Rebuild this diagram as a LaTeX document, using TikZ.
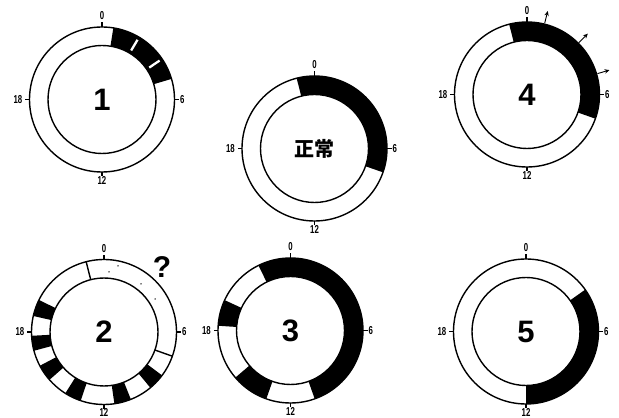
\documentclass[tikz,border=0pt]{standalone}
\usepackage{fontspec}
\setmainfont{Liberation Sans}
\newfontfamily\cjk{Noto Sans CJK SC}
\usetikzlibrary{calc,arrows.meta}

% ring radii (pt)
\def\Ro{72.5}
\def\Ri{54}

\tikzset{
  ring/.style={line width=1.4pt},
  hourlabel/.style={inner sep=0pt, font=\bfseries\fontsize{11.5}{11.5}\selectfont},
  bignum/.style={inner sep=0pt, font=\bfseries\fontsize{31}{31}\selectfont},
  outarrow/.style={line width=0.9pt, -{Stealth[length=4.8pt,width=4.4pt]}},
  gapline/.style={white, line width=2.3pt},
}

% black sector of the ring, clockwise from hour #2 to hour #3
\newcommand\blackarc[3]{%
  \pgfmathsetmacro\angA{90-15*(#2)}%
  \pgfmathsetmacro\angB{90-15*(#3)}%
  \fill ([shift={(\angA:\Ro pt)}]#1)
    arc[start angle=\angA, end angle=\angB, radius=\Ro pt]
    -- ([shift={(\angB:\Ri pt)}]#1)
    arc[start angle=\angB, end angle=\angA, radius=\Ri pt] -- cycle;}

% radial line across the ring at hour #3
\newcommand\radline[3][ring]{%
  \pgfmathsetmacro\angA{90-15*(#3)}%
  \draw[#1] ([shift={(\angA:\Ri pt)}]#2) -- ([shift={(\angA:\Ro pt)}]#2);}

% the two circles of a dial
\newcommand\dial[1]{%
  \draw[ring] (#1) circle[radius=\Ro pt];
  \draw[ring] (#1) circle[radius=\Ri pt];}

% ticks and hour figures 0, 6, 12, 18
\newcommand\clockmarks[1]{%
  \foreach \h/\anc/\rr in {0/south/79.5, 6/west/78, 12/north/76.5, 18/east/79.5} {
    \pgfmathsetmacro\angH{90-15*\h}
    \draw[ring] ([shift={(\angH:\Ro pt)}]#1) -- ([shift={(\angH:77pt)}]#1);
    \node[hourlabel, anchor=\anc] (#1-h\h) at ([shift={(\angH:\rr pt)}]#1)
      {\scalebox{0.68}[1]{\h}};
  }}

\begin{document}
\begin{tikzpicture}[x=1pt,y=1pt]
  \useasboundingbox (0,0) rectangle (619,418);

  % dial centres
  \coordinate (c1) at (102,318.5);
  \coordinate (cn) at (314.5,269.5);
  \coordinate (c4) at (527,323.5);
  \coordinate (c2) at (104,86);
  \coordinate (c3) at (290.5,87.5);
  \coordinate (c5) at (526,86.5);

  % dark phases
  \blackarc{c1}{0.6}{4.9}
  \blackarc{cn}{-0.95}{7.28}
  \blackarc{c4}{-0.95}{7.3}
  \blackarc{c2}{8.45}{9.35}
  \blackarc{c2}{10.55}{11.45}
  \blackarc{c2}{13.25}{14.15}
  \blackarc{c2}{15.25}{16.15}
  \blackarc{c2}{17.0}{17.8}
  \blackarc{c2}{18.85}{19.75}
  \blackarc{c3}{-1.75}{10.7}
  \blackarc{c3}{13.3}{15.3}
  \blackarc{c3}{18.25}{19.65}
  \blackarc{c5}{3.65}{12}

  % breaks inside the dark phase of dial 1
  \foreach \h in {2.05,3.73} {
    \pgfmathsetmacro\angG{90-15*\h}
    \draw[gapline] ([shift={(\angG:57pt)}]c1) -- ([shift={(\angG:69.5pt)}]c1);
  }

  % dials
  \foreach \c in {c1,cn,c4,c2,c3,c5} {\dial{\c}\clockmarks{\c}}

  % uncertain phase of dial 2
  \radline{c2}{-0.95}
  \radline{c2}{7.3}
  \foreach \p in {(109,146),(118,152),(141,134),(155,119)}
    \fill \p circle[radius=0.75pt];
  \node[inner sep=0pt, font=\bfseries\fontsize{30}{30}\selectfont] (q) at (162,151) {?};

  % phase advance arrows of dial 4
  \foreach \h in {0.93,3.0,4.9} {
    \pgfmathsetmacro\angP{90-15*\h}
    \draw[outarrow] ([shift={(\angP:73.5pt)}]c4) -- ([shift={(\angP:86pt)}]c4);
  }

  % dial names
  \node[bignum] (n1) at (c1) {1};
  \node[inner sep=0pt, font=\cjk\bfseries\fontsize{20}{20}\selectfont] (nn) at (cn) {正常};
  \node[bignum] (n4) at (c4) {4};
  \node[bignum] (n2) at (c2) {2};
  \node[bignum] (n3) at (c3) {3};
  \node[bignum] (n5) at (c5) {5};
\end{tikzpicture}
\end{document}
